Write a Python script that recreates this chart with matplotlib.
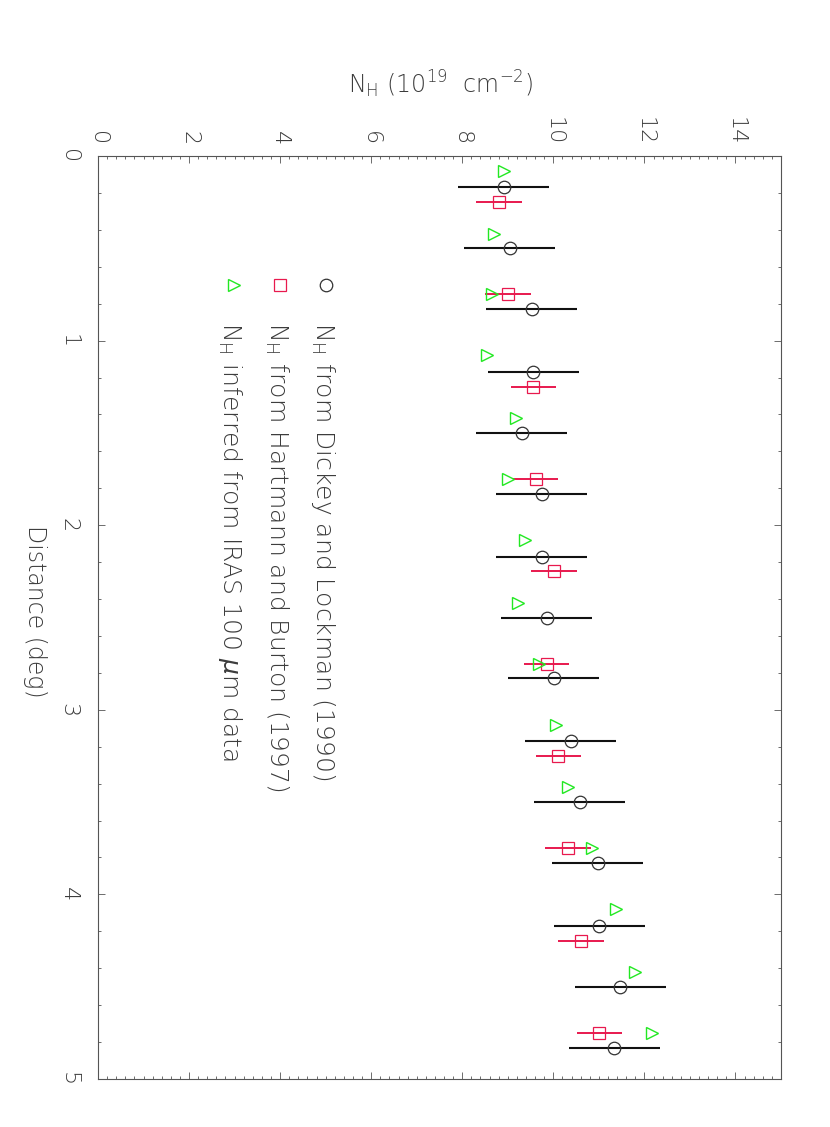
import numpy as np
import matplotlib
matplotlib.use("Agg")
import matplotlib.pyplot as plt
from matplotlib.ticker import MultipleLocator

plt.rcParams['font.family'] = ['DejaVu Sans']
plt.rcParams['font.weight'] = 'light'
plt.rcParams['mathtext.fontset'] = 'dejavusans'
plt.rcParams['mathtext.default'] = 'regular'

# ---- data ----
dl_dist = [0.17, 0.50, 0.83, 1.17, 1.50, 1.83, 2.17, 2.50, 2.83, 3.17, 3.50, 3.83, 4.17, 4.50, 4.83]
dl_nh = [8.91, 9.04, 9.53, 9.56, 9.31, 9.75, 9.75, 9.85, 10.01, 10.38, 10.58, 10.97, 11.01, 11.47, 11.34]
dl_err = [1.0] * 15

hb_dist = [0.25, 0.75, 1.25, 1.75, 2.25, 2.75, 3.25, 3.75, 4.25, 4.75]
hb_nh = [8.81, 9.01, 9.56, 9.61, 10.01, 9.85, 10.11, 10.32, 10.61, 11.01]
hb_err = [0.5] * 10

iras_dist = [0.08, 0.42, 0.75, 1.08, 1.42, 1.75, 2.08, 2.42, 2.75, 3.08, 3.42, 3.75, 4.08, 4.42, 4.75]
iras_nh = [8.91, 8.70, 8.65, 8.54, 9.19, 9.00, 9.38, 9.22, 9.68, 10.05, 10.32, 10.85, 11.38, 11.79, 12.16]

nh_ticks = [0, 2, 4, 6, 8, 10, 12, 14]
dist_ticks = [0, 1, 2, 3, 4, 5]

legend_labels = [r'N$_{\rm H}$ from Dickey and Lockman (1990)',
                 r'N$_{\rm H}$ from Hartmann and Burton (1997)',
                 r'N$_{\rm H}$ inferred from IRAS 100 $\mathit{\mu}$m data']

TXT = '#3c3c3c'
RED = '#e8194e'
GRN = '#22e822'
W, H = 830, 1127

fig = plt.figure(figsize=(W / 100, H / 100), dpi=100)
ax = fig.add_axes([98 / W, 1 - 1079 / H, (781 - 98) / W, (1079 - 156) / H])
ax.set_xlim(0, 15)
ax.set_ylim(5, 0)

ax.errorbar(dl_nh, dl_dist, xerr=dl_err, fmt='o', ms=9, mfc='none', mec='#333333',
            mew=0.9, ecolor='#111111', elinewidth=1.5, capsize=0, zorder=3)
ax.errorbar(hb_nh, hb_dist, xerr=hb_err, fmt='s', ms=8, mfc='none', mec=RED,
            mew=0.9, ecolor=RED, elinewidth=1.4, capsize=0, zorder=3)
ax.plot(iras_nh, iras_dist, linestyle='none', marker='>', ms=8, mfc='none',
        mec=GRN, mew=1.0, zorder=4)

for s in ax.spines.values():
    s.set_color('#555555')
    s.set_linewidth(0.8)

ax.set_xticks(nh_ticks)
ax.set_yticks(dist_ticks)
ax.set_xticklabels([str(t) for t in nh_ticks])
ax.set_yticklabels([str(t) for t in dist_ticks])
ax.xaxis.set_minor_locator(MultipleLocator(0.2))
ax.yaxis.set_minor_locator(MultipleLocator(0.2))
ax.tick_params(which='both', direction='in', top=True, bottom=True, left=True, right=True,
               labeltop=True, labelbottom=False, labelleft=True, labelright=False,
               color='#555555', width=0.6)
ax.tick_params(which='major', length=5)
ax.tick_params(which='minor', length=2.5)
ax.tick_params(axis='x', which='major', pad=8, labelsize=16, labelcolor=TXT)
ax.tick_params(axis='y', which='major', pad=14, labelsize=16, labelcolor=TXT)
for lab in ax.get_xticklabels():
    lab.set_rotation(-90)
    lab.set_ha('center')
    lab.set_va('bottom')
for lab in ax.get_yticklabels():
    lab.set_rotation(-90)
    lab.set_va('center')
    lab.set_ha('right')

# axis titles
fig.text(440 / W, 1 - 93 / H, r'N$_{\rm H}$ (10$^{19}$  cm$^{-2}$)', ha='center',
         va='baseline', fontsize=17, color=TXT)
fig.text(28 / W, 1 - 611 / H, 'Distance (deg)', rotation=-90, rotation_mode='anchor',
         ha='center', va='baseline', fontsize=17, color=TXT)

# legend (manual, rotated)
leg_marker_x = [326, 280, 234]
leg_text_x = [316, 269, 223]
leg_y_marker = 285
leg_y_text = 322
styles = [dict(marker='o', ms=9, mec='#333333', mew=0.9),
          dict(marker='s', ms=8, mec=RED, mew=0.9),
          dict(marker='>', ms=8, mec=GRN, mew=1.0)]
for mx, tx, st, lab in zip(leg_marker_x, leg_text_x, styles, legend_labels):
    fig.lines.append(plt.Line2D([mx / W], [1 - leg_y_marker / H], linestyle='none',
                                mfc='none', transform=fig.transFigure, **st))
    fig.text(tx / W, 1 - leg_y_text / H, lab, rotation=-90, rotation_mode='anchor',
             ha='left', va='baseline', fontsize=18, color=TXT)

fig.savefig('out.png', dpi=100)
